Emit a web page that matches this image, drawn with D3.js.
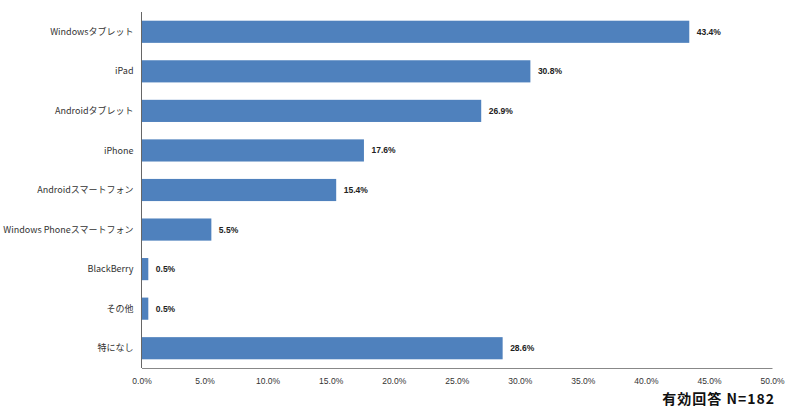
<!DOCTYPE html>
<html>
<head>
<meta charset="utf-8">
<script src="https://cdn.jsdelivr.net/npm/d3@7"></script>
<style>
  body { margin: 0; background: #fff; }
  svg { display: block; font-family: "Noto Sans CJK JP", "Liberation Sans", sans-serif; }
</style>
</head>
<body>
<div id="chart"></div>
<script>
// categories and values (percent of respondents)
const categories = [
    "Windowsタブレット",
    "iPad",
    "Androidタブレット",
    "iPhone",
    "Androidスマートフォン",
    "Windows Phoneスマートフォン",
    "BlackBerry",
    "その他",
    "特になし"
];
const values = [43.4, 30.8, 26.9, 17.6, 15.4, 5.5, 0.5, 0.5, 28.6];
const xTicks = [0, 5, 10, 15, 20, 25, 30, 35, 40, 45, 50];
const footnote = "有効回答 N=182";

const W = 794, H = 411;
const margin = { top: 12, right: 22, bottom: 43, left: 141.5 };
const innerW = W - margin.left - margin.right;
const innerH = H - margin.top - margin.bottom;

const svg = d3.select("#chart").append("svg")
    .attr("width", W)
    .attr("height", H);

const g = svg.append("g")
    .attr("transform", `translate(${margin.left}, ${margin.top})`);

const data = categories.map((c, i) => ({ name: c, value: values[i] }));

const x = d3.scaleLinear().domain([0, 50]).range([0, innerW]);
const y = d3.scaleBand()
    .domain(categories)
    .range([0, innerH])
    .paddingInner(0.44)
    .paddingOuter(0.22);

// bars
g.selectAll("rect.bar")
    .data(data)
    .join("rect")
    .attr("class", "bar")
    .attr("x", 0.5)
    .attr("y", d => y(d.name))
    .attr("width", d => x(d.value))
    .attr("height", y.bandwidth())
    .attr("fill", "#4f81bd");

// value labels
g.selectAll("text.val")
    .data(data)
    .join("text")
    .attr("class", "val")
    .attr("x", d => x(d.value) + 8)
    .attr("y", d => y(d.name) + y.bandwidth() / 2)
    .attr("dy", "0.35em")
    .attr("fill", "#222")
    .style("font-size", "8.5px")
    .style("font-weight", "bold")
    .style("font-family", "Liberation Sans, sans-serif")
    .text(d => d.value.toFixed(1) + "%");

// category labels
g.selectAll("text.cat")
    .data(data)
    .join("text")
    .attr("class", "cat")
    .attr("x", -8)
    .attr("y", d => y(d.name) + y.bandwidth() / 2)
    .attr("dy", "0.35em")
    .attr("text-anchor", "end")
    .attr("fill", "#333")
    .style("font-size", "9px")
    .text(d => d.name);

// x axis
const xAxis = g.append("g")
    .attr("transform", `translate(0, ${innerH})`)
    .call(d3.axisBottom(x).tickValues(xTicks).tickSize(0).tickPadding(10)
        .tickFormat(d => d.toFixed(1) + "%"));
xAxis.select(".domain").attr("stroke", "#888");
xAxis.selectAll("text")
    .attr("fill", "#333")
    .style("font-size", "8.5px")
    .style("font-family", "Liberation Sans, sans-serif");

// y axis line
g.append("line")
    .attr("x1", 0).attr("x2", 0)
    .attr("y1", 0).attr("y2", innerH)
    .attr("stroke", "#666");

// footnote
svg.append("text")
    .attr("x", 775)
    .attr("y", 404)
    .attr("text-anchor", "end")
    .attr("fill", "#111")
    .style("font-size", "14px")
    .style("font-weight", "bold")
    .style("letter-spacing", "1px")
    .text(footnote);
</script>
</body>
</html>
